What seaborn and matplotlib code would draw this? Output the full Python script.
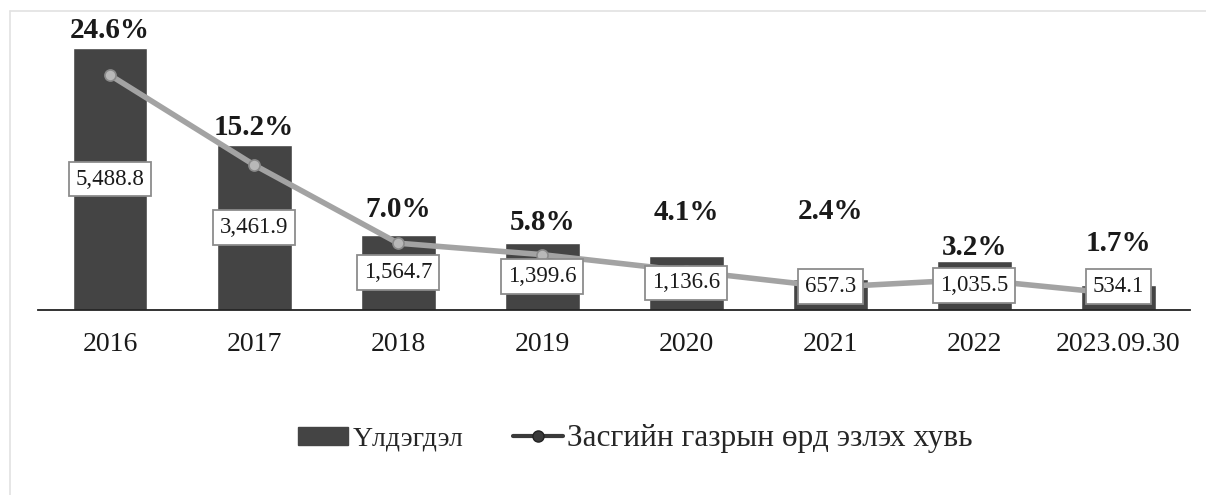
import matplotlib
matplotlib.use("Agg")
import matplotlib.pyplot as plt
import matplotlib.patches as mpatches
from matplotlib.lines import Line2D
import numpy as np
import pandas as pd
import seaborn as sns

years = ['2016', '2017', '2018', '2019', '2020', '2021', '2022', '2023.09.30']
balance = [5488.8, 3461.9, 1564.7, 1399.6, 1136.6, 657.3, 1035.5, 534.1]
share = [24.6, 15.2, 7.0, 5.8, 4.1, 2.4, 3.2, 1.7]
# where the % labels sit (in % axis units), placed by hand in the original
share_label_y = [29.3, 19.1, 10.5, 9.2, 10.2, 10.3, 6.6, 7.0]

bar_name = 'Үлдэгдэл'
line_name = 'Засгийн газрын өрд эзлэх хувь'

df = pd.DataFrame({'year': years, 'balance': balance, 'share': share})

sns.set_style("white")
plt.rcParams['font.family'] = ['Liberation Serif', 'DejaVu Serif']

bar_col = '#444444'
line_col = '#a3a3a3'

fig = plt.figure(figsize=(12.06, 4.95), dpi=100)
ax = fig.add_axes([0.0315, 0.3737, 0.9555, 0.596])

sns.barplot(data=df, x='year', y='balance', color=bar_col, width=0.52,
            saturation=1, ax=ax)
ax.set_ylim(0, 6180)
ax.set_xlim(-0.5, len(years) - 0.5)

ax2 = ax.twinx()
sns.pointplot(data=df, x='year', y='share', color=line_col, ax=ax2,
              markers='o', linestyles='-', linewidth=4, markersize=8,
              markerfacecolor='#b8b8b8', markeredgecolor='#8a8a8a',
              markeredgewidth=1.2)
ax2.set_ylim(0, 30.9)
ax2.set_xlim(-0.5, len(years) - 0.5)

# value boxes on the bars (drawn on the top axes so they cover the line)
for i, v in enumerate(balance):
    y = max(v / 2, 500)
    ax2.text(i, y, f'{v:,.1f}', transform=ax.transData, ha='center',
             va='center', fontsize=16.5, zorder=5, color='#1a1a1a',
             bbox=dict(boxstyle='square,pad=0.3', fc='white', ec='#8c8c8c', lw=1.3))

for i, p in enumerate(share):
    ax2.text(i, share_label_y[i], f'{p:.1f}%', ha='center', va='center',
             fontsize=21, fontweight='bold', color='#1a1a1a')

for a in (ax, ax2):
    a.set_xlabel('')
    a.set_ylabel('')
    a.set_yticks([])
    for s in ['top', 'right', 'left']:
        a.spines[s].set_visible(False)
ax2.spines['bottom'].set_visible(False)
ax.spines['bottom'].set_color('#222222')
ax.spines['bottom'].set_linewidth(1.3)
ax.tick_params(axis='x', length=0, pad=16, labelsize=20, labelcolor='#1a1a1a',
               labelbottom=True)
ax2.tick_params(axis='x', length=0, labelbottom=False)

# faint outer frame of the scanned figure
fig.add_artist(Line2D([0.008, 0.008], [0.0, 0.978], color='#e2e2e2', lw=1.2))
fig.add_artist(Line2D([0.008, 1.0], [0.978, 0.978], color='#e2e2e2', lw=1.2))

handles = [mpatches.Patch(color=bar_col),
           Line2D([0], [0], color='#3a3a3a', lw=3, marker='o', markersize=8,
                  markerfacecolor='#3a3a3a', markeredgecolor='#222222')]
leg = fig.legend(handles, [bar_name, line_name], loc='center', ncol=2,
                 bbox_to_anchor=(0.527, 0.115), frameon=False, fontsize=20,
                 handlelength=1.8, handleheight=0.6, handletextpad=0.15,
                 columnspacing=1.8)
leg.get_texts()[1].set_fontsize(22.5)

fig.savefig('out.png', dpi=100)
